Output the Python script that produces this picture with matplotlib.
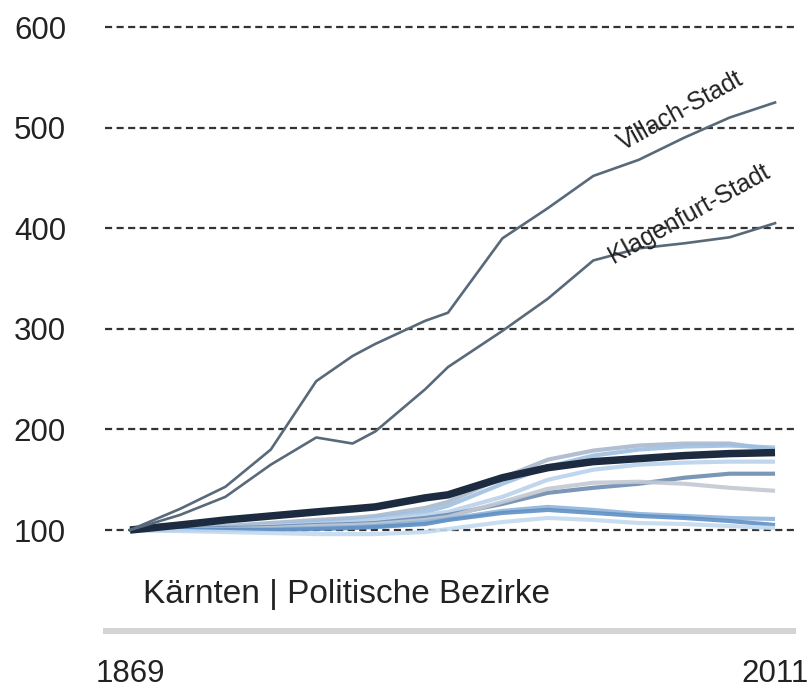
"""Kärnten: population index of the political districts, 1869-2011 (1869 = 100)."""

import matplotlib

matplotlib.use("Agg")

import matplotlib.pyplot as plt


YEARS = [1869, 1880, 1890, 1900, 1910, 1918, 1923, 1934, 1939,
         1951, 1961, 1971, 1981, 1991, 2001, 2011]

VILLACH_STADT = [100, 121, 143, 180, 248, 273, 285, 308, 316,
                 390, 420, 452, 468, 490, 510, 525]
KLAGENFURT_STADT = [100, 115, 133, 165, 192, 186, 198, 240, 262,
                    298, 330, 368, 380, 385, 391, 405]
KAERNTEN = [100, 105, 110, 114, 118, 121, 123, 132, 135,
            152, 162, 168, 171, 174, 176, 177]

DISTRICTS = [
    [100, 102, 104, 107, 110, 112, 114, 122, 128, 152, 170, 179, 184, 186, 186, 180],
    [100, 101, 103, 105, 108, 110, 112, 118, 124, 146, 163, 174, 180, 183, 184, 182],
    [100, 101, 102, 104, 106, 108, 110, 115, 118, 133, 150, 160, 165, 167, 168, 168],
    [100, 101, 102, 103, 105, 106, 107, 112, 115, 126, 137, 142, 146, 152, 156, 156],
    [100, 100, 101, 102, 104, 105, 106, 110, 113, 128, 141, 147, 148, 146, 142, 139],
    [100, 100, 101, 101, 102, 103, 104, 108, 111, 119, 123, 120, 116, 114, 112, 111],
    [100, 100, 100, 100, 101, 102, 103, 106, 110, 117, 120, 117, 114, 112, 109, 105],
    [100, 99, 98, 97, 96, 96, 96, 98, 101, 108, 112, 110, 107, 106, 104, 102],
]

DISTRICT_COLORS = ["#a9b8cc", "#9fc0e2", "#b9d2ec", "#6d8cb0",
                   "#c3c9d2", "#8db4dc", "#5f8fc4", "#c4daf0"]

Y_TICKS = [100, 200, 300, 400, 500, 600]
X_TICKS = [1869, 2011]

CITY_COLOR = "#58697a"
TOTAL_COLOR = "#1c2b3f"
TEXT_COLOR = "#222222"


def main():
    plt.rcParams["font.family"] = ["Liberation Sans", "DejaVu Sans"]

    fig = plt.figure(figsize=(8.09, 6.88), dpi=100)
    fig.patch.set_facecolor("white")

    ax = fig.add_axes([0.1298, 0.2078, 0.8529, 0.7703])
    ax.set_xlim(1863.5, 2015.4)
    ax.set_ylim(85.1, 611.9)

    for y in Y_TICKS:
        ax.axhline(y, color="#333333", linewidth=1.6,
                   linestyle=(0, (3.2, 2.0)), zorder=1)

    for values, color in zip(DISTRICTS, DISTRICT_COLORS):
        ax.plot(YEARS, values, color=color, linewidth=3.0, alpha=0.9,
                solid_capstyle="butt", zorder=2)

    ax.plot(YEARS, KAERNTEN, color=TOTAL_COLOR, linewidth=5.4,
            solid_capstyle="butt", zorder=3)
    ax.plot(YEARS, VILLACH_STADT, color=CITY_COLOR, linewidth=1.9, zorder=3)
    ax.plot(YEARS, KLAGENFURT_STADT, color=CITY_COLOR, linewidth=1.9, zorder=3)

    ax.text(1990.3, 516, "Villach-Stadt", rotation=29, rotation_mode="anchor",
            ha="center", va="center", fontsize=18, color=TEXT_COLOR, zorder=4)
    ax.text(1992.0, 414, "Klagenfurt-Stadt", rotation=29, rotation_mode="anchor",
            ha="center", va="center", fontsize=18, color=TEXT_COLOR, zorder=4)

    ax.set_yticks(Y_TICKS)
    ax.set_yticklabels([str(v) for v in Y_TICKS])
    ax.set_xticks(X_TICKS)
    ax.set_xticklabels([str(v) for v in X_TICKS])
    ax.tick_params(axis="y", length=0, pad=28, labelsize=22.5, labelcolor=TEXT_COLOR)
    ax.tick_params(axis="x", length=0, pad=82, labelsize=22.5, labelcolor=TEXT_COLOR)

    for spine in ax.spines.values():
        spine.set_visible(False)

    # grey baseline bar under the caption
    ax.plot([-0.003, 1.001], [-0.162, -0.162], transform=ax.transAxes,
            color="#d4d4d4", linewidth=4.3, clip_on=False, solid_capstyle="butt")

    ax.text(0.055, -0.1094, "Kärnten | Politische Bezirke", transform=ax.transAxes,
            ha="left", va="baseline", fontsize=24, color=TEXT_COLOR)

    fig.savefig("out.png", dpi=100)
    plt.close(fig)


if __name__ == "__main__":
    main()
